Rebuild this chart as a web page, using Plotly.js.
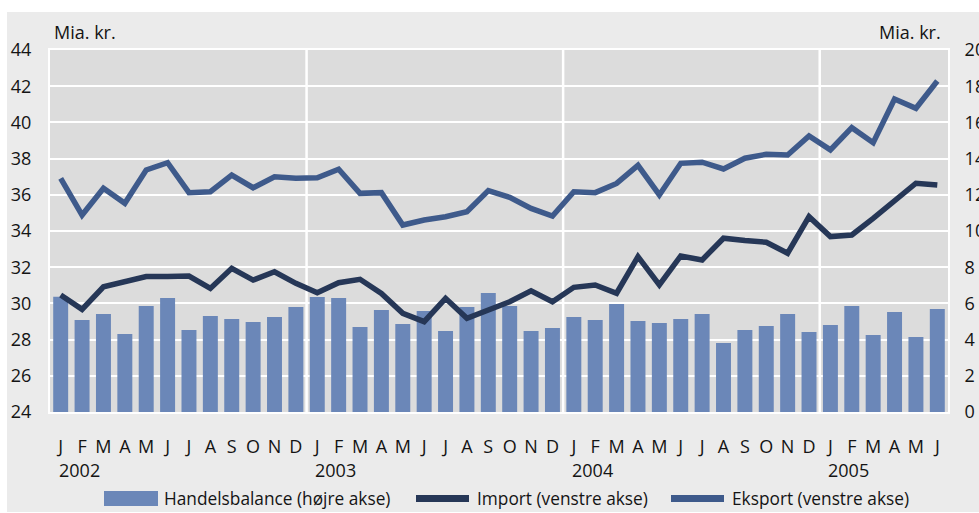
<!DOCTYPE html>
<html>
<head>
<meta charset="utf-8">
<script src="https://cdn.plot.ly/plotly-3.0.1.min.js"></script>
<style>
  html, body { margin: 0; padding: 0; background: #ffffff; width: 979px; height: 513px; overflow: hidden; }
  #chart { position: absolute; left: 7px; top: 12px; width: 972px; height: 500px; }
</style>
</head>
<body>
<div id="chart"></div>
<script>
// ---- Data (Jan 2002 - Jun 2005) ----
const months = ["J","F","M","A","M","J","J","A","S","O","N","D",
                "J","F","M","A","M","J","J","A","S","O","N","D",
                "J","F","M","A","M","J","J","A","S","O","N","D",
                "J","F","M","A","M","J"];
const yearLabels = ["2002","2003","2004","2005"];
const yearStartIndex = [0, 12, 24, 36];

// Handelsbalance (højre akse), mia. kr.
const handelsbalance = [6.37, 5.08, 5.41, 4.31, 5.86, 6.30, 4.53, 5.30, 5.14, 4.97, 5.25, 5.80,
                        6.35, 6.30, 4.70, 5.64, 4.86, 5.58, 4.48, 5.80, 6.57, 5.86, 4.48, 4.64,
                        5.25, 5.08, 5.97, 5.03, 4.92, 5.14, 5.41, 3.81, 4.53, 4.75, 5.41, 4.42,
                        4.81, 5.86, 4.25, 5.52, 4.14, 5.69];
// Import (venstre akse), mia. kr.
const importVals = [30.46, 29.67, 30.92, 31.17, 31.48, 31.48, 31.51, 30.83, 31.94, 31.29, 31.75, 31.11,
                    30.59, 31.14, 31.33, 30.55, 29.45, 28.99, 30.28, 29.18, 29.64, 30.09, 30.70, 30.09,
                    30.89, 31.02, 30.56, 32.58, 31.02, 32.62, 32.40, 33.60, 33.47, 33.38, 32.77, 34.79,
                    33.69, 33.78, 34.70, 35.71, 36.64, 36.54];
// Eksport (venstre akse), mia. kr.
const eksport = [36.91, 34.88, 36.36, 35.53, 37.37, 37.77, 36.12, 36.17, 37.09, 36.39, 37.00, 36.91,
                 36.94, 37.41, 36.08, 36.12, 34.33, 34.61, 34.79, 35.07, 36.23, 35.86, 35.25, 34.83,
                 36.17, 36.12, 36.63, 37.63, 35.99, 37.74, 37.80, 37.43, 38.02, 38.24, 38.20, 39.25,
                 38.48, 39.71, 38.88, 41.29, 40.78, 42.29];

const seriesNames = ["Handelsbalance (højre akse)", "Import (venstre akse)", "Eksport (venstre akse)"];
const unitLabel = "Mia. kr.";
const leftTicks = [24, 26, 28, 30, 32, 34, 36, 38, 40, 42, 44];
const rightTicks = [0, 2, 4, 6, 8, 10, 12, 14, 16, 18, 20];

// ---- Build ----
const xIdx = months.map((_, i) => i);
const FONT = "Open Sans, Noto Sans, sans-serif";
const TXT = "#141414";
const colBar = "#6b87b8";
const colImp = "#263757";
const colEks = "#3e5a8b";

const traces = [
  { type: "bar", x: xIdx, y: handelsbalance, name: seriesNames[0], yaxis: "y",
    marker: { color: colBar }, hoverinfo: "y" },
  { type: "scatter", mode: "lines", x: xIdx, y: importVals, name: seriesNames[1], yaxis: "y2",
    line: { color: colImp, width: 5.5, shape: "linear" } },
  { type: "scatter", mode: "lines", x: xIdx, y: eksport, name: seriesNames[2], yaxis: "y2",
    line: { color: colEks, width: 5.5, shape: "linear" } }
];

const plotW = 898, plotH = 362;
function px2x(px) { return (px - 50) / plotW; }
function px2y(py) { return (412 - py) / plotH; }

const shapes = [];
// year separators
[11.5, 23.5, 35.5].forEach(v => shapes.push({
  type: "line", xref: "x", yref: "paper", x0: v, x1: v, y0: 0, y1: 1,
  line: { color: "#ffffff", width: 2.5 }, layer: "below"
}));
// legend swatches
const legY = px2y(498.5);
shapes.push({ type: "rect", xref: "paper", yref: "paper",
  x0: px2x(104), x1: px2x(158), y0: px2y(506), y1: px2y(491),
  fillcolor: colBar, line: { width: 0 } });
shapes.push({ type: "line", xref: "paper", yref: "paper",
  x0: px2x(416), x1: px2x(469), y0: legY, y1: legY, line: { color: colImp, width: 7 } });
shapes.push({ type: "line", xref: "paper", yref: "paper",
  x0: px2x(671), x1: px2x(724), y0: legY, y1: legY, line: { color: colEks, width: 7 } });

const annotations = [];
yearLabels.forEach((lab, k) => annotations.push({
  text: lab, xref: "x", yref: "paper", x: yearStartIndex[k], y: 0,
  xanchor: "left", yanchor: "middle", xshift: -4, yshift: -58, showarrow: false,
  font: { family: FONT, size: 18, color: TXT }
}));
annotations.push({ text: unitLabel, xref: "paper", yref: "paper", x: 0, y: 1,
  xanchor: "left", yanchor: "middle", xshift: 2, yshift: 18, showarrow: false,
  font: { family: FONT, size: 18, color: TXT } });
annotations.push({ text: unitLabel, xref: "paper", yref: "paper", x: 1, y: 1,
  xanchor: "right", yanchor: "middle", xshift: -5, yshift: 18, showarrow: false,
  font: { family: FONT, size: 18, color: TXT } });
[[162, 0], [475, 1], [730, 2]].forEach(([p, k]) => annotations.push({
  text: seriesNames[k], xref: "paper", yref: "paper", x: px2x(p), y: legY,
  xanchor: "left", yanchor: "middle", showarrow: false,
  font: { family: FONT, size: 17.3, color: TXT }
}));

const layout = {
  width: 972, height: 500,
  margin: { l: 43, r: 31, t: 38, b: 100, pad: 0 },
  paper_bgcolor: "#ebebeb",
  plot_bgcolor: "#dcdcdc",
  showlegend: false,
  bargap: 0.3,
  font: { family: FONT, size: 18, color: TXT },
  xaxis: {
    range: [-0.5, 41.5], tickmode: "array", tickvals: xIdx, ticktext: months,
    showgrid: false, zeroline: false, ticks: "outside", ticklen: 17, tickcolor: "rgba(0,0,0,0)",
    showline: true, linecolor: "#ffffff", linewidth: 2, mirror: true,
    tickfont: { family: FONT, size: 18, color: TXT }, fixedrange: true
  },
  yaxis: {
    side: "right", range: [0, 20], tickvals: rightTicks,
    showgrid: true, gridcolor: "#ffffff", gridwidth: 2, zeroline: false,
    ticks: "outside", ticklen: 11, tickcolor: "rgba(0,0,0,0)",
    showline: true, linecolor: "#ffffff", linewidth: 2, mirror: true,
    tickfont: { family: FONT, size: 18, color: TXT }, fixedrange: true
  },
  yaxis2: {
    overlaying: "y", side: "left", range: [24, 44], tickvals: leftTicks,
    showgrid: false, zeroline: false,
    ticks: "outside", ticklen: 14, tickcolor: "rgba(0,0,0,0)",
    tickfont: { family: FONT, size: 18, color: TXT }, fixedrange: true
  },
  shapes: shapes,
  annotations: annotations
};

Plotly.newPlot("chart", traces, layout, { displayModeBar: false, staticPlot: true });
</script>
</body>
</html>
